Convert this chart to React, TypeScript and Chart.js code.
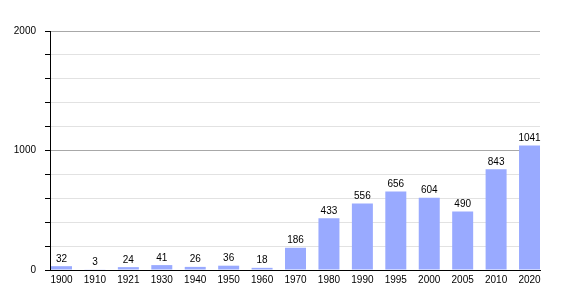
import React, { useEffect, useRef } from "react";
import { Chart, registerables } from "chart.js";

Chart.register(...registerables);

const years = ["1900", "1910", "1921", "1930", "1940", "1950", "1960", "1970", "1980", "1990", "1995", "2000", "2005", "2010", "2020"];
const population = [32, 3, 24, 41, 26, 36, 18, 186, 433, 556, 656, 604, 490, 843, 1041];
const yMin = 0;
const yMax = 2000;
const yStep = 200;
const yLabelEvery = 1000;

const FONT = "'Liberation Sans', Arial, sans-serif";

const valueLabels = {
  id: "valueLabels",
  afterDatasetsDraw(chart: any) {
    const ctx = chart.ctx;
    const meta = chart.getDatasetMeta(0);
    ctx.save();
    ctx.font = `10px ${FONT}`;
    ctx.fillStyle = "#000";
    ctx.textAlign = "center";
    ctx.textBaseline = "alphabetic";
    meta.data.forEach((bar: any, i: number) => {
      ctx.fillText(String(population[i]), bar.x, bar.y - 4.5);
    });
    ctx.restore();
  },
};

export default function App() {
  const ref = useRef<HTMLCanvasElement | null>(null);
  useEffect(() => {
    if (!ref.current) return;
    const chart = new Chart(ref.current, {
      type: "bar",
      data: {
        datasets: [
          {
            data: population.map((v, i) => ({ x: i, y: v })),
            backgroundColor: "rgb(153,170,255)",
            borderWidth: 0,
            barPercentage: 0.628,
            categoryPercentage: 1,
          },
        ],
      },
      options: {
        responsive: false,
        animation: false,
        events: [],
        layout: { padding: { top: 31, right: 30, left: 0, bottom: 0 } },
        plugins: { legend: { display: false }, tooltip: { enabled: false } },
        scales: {
          x: {
            type: "linear",
            min: -0.344,
            max: 14.313,
            offset: false,
            grid: { display: false, drawTicks: false },
            border: { display: true, color: "#000", width: 1 },
            afterBuildTicks: (scale: any) => {
              scale.ticks = years.map((_, i) => ({ value: i }));
            },
            afterFit: (scale: any) => {
              scale.height = 30;
            },
            ticks: {
              autoSkip: false,
              maxRotation: 0,
              padding: 4,
              color: "#000",
              font: { family: FONT, size: 10 },
              callback: (v: any) => years[Math.round(Number(v))] ?? "",
            },
          },
          y: {
            min: yMin,
            max: yMax,
            afterFit: (scale: any) => {
              scale.width = 50;
            },
            grid: {
              color: (c: any) => (c.tick && c.tick.value % yLabelEvery === 0 ? "#a8a8a8" : "#e2e2e2"),
              tickColor: "#000",
              tickLength: 5,
            },
            border: { display: true, color: "#000", width: 1 },
            ticks: {
              stepSize: yStep,
              padding: 9,
              color: "#000",
              font: { family: FONT, size: 10 },
              callback: (v: any) => (Number(v) % yLabelEvery === 0 ? String(v) : ""),
            },
          },
        },
      },
      plugins: [valueLabels],
    });
    return () => chart.destroy();
  }, []);
  return (
    <div style={{ position: "fixed", left: 0, top: 0, width: 570, height: 300, background: "#fff" }}>
      <canvas ref={ref} width={570} height={300} style={{ display: "block" }} />
    </div>
  );
}
